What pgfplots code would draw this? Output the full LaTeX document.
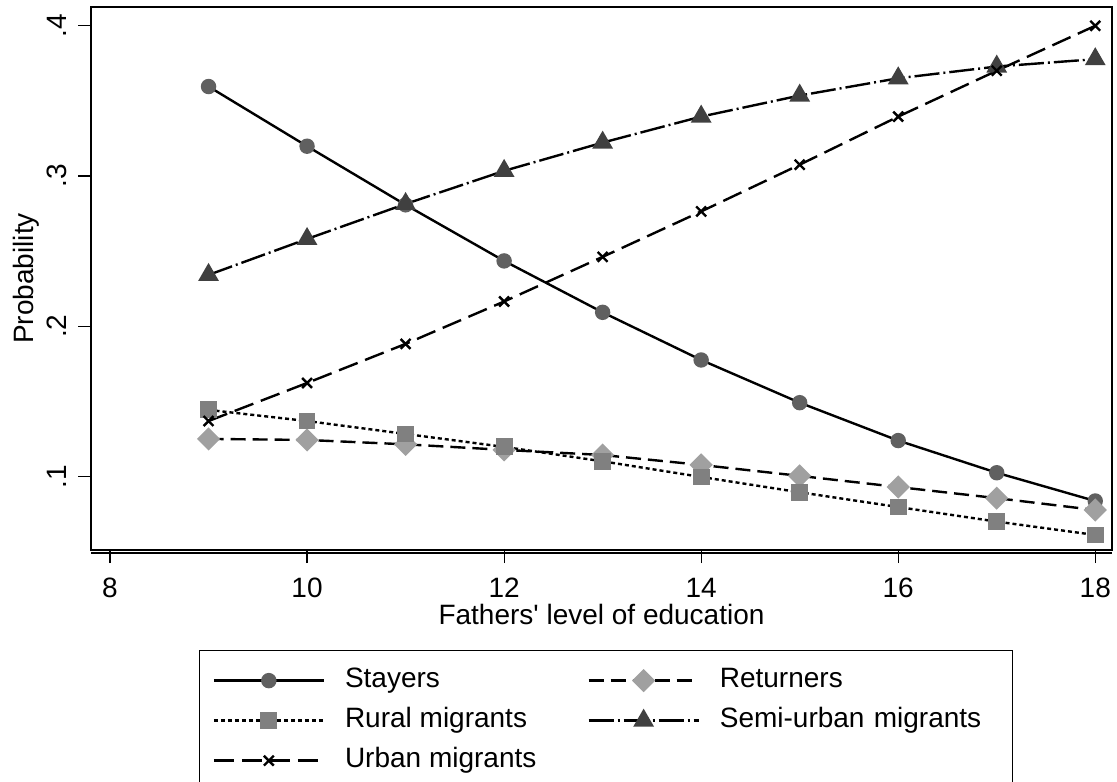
\documentclass[border=0pt]{standalone}
\usepackage{fontspec}
\setmainfont{Liberation Sans}[Ligatures=TeXOff]
\usepackage{pgfplots}
\pgfplotsset{compat=1.18}
\definecolor{cStay}{RGB}{96,96,96}
\definecolor{cRet}{RGB}{160,160,160}
\definecolor{cRur}{RGB}{128,128,128}
\definecolor{cSemi}{RGB}{64,64,64}
\begin{document}
\begin{tikzpicture}
\begin{axis}[
  scale only axis, width=510.5pt, height=271.5pt,
  at={(45.5pt,-275pt)}, anchor=south west,
  xmin=7.807, xmax=18.17, ymin=0.0512, ymax=0.4124,
  xtick={8,10,12,14,16,18}, xticklabels={8,10,12,14,16,18},
  ytick={0.1,0.2,0.3,0.4}, yticklabels={.1,.2,.3,.4},
  xtick pos=left, ytick pos=left,
  tick align=outside, major tick length=6.5pt,
  axis line style={line width=0.6pt},
  tick style={line width=0.6pt, black},
  /pgf/number format/assume math mode=true,
  ticklabel style={font=\fontsize{14}{16}\selectfont, inner sep=0pt},
  xticklabel style={anchor=north}, xticklabel shift=7.5pt,
  yticklabel style={rotate=90, anchor=south}, yticklabel shift=5.5pt,
  xlabel={Fathers' level of education}, ylabel={Probability},
  label style={font=\fontsize{14}{16}\selectfont, inner sep=0pt},
  xlabel style={at={(axis description cs:0.5,-0.0994)}, anchor=north},
  ylabel style={at={(axis description cs:-0.0764,0.5)}, anchor=north},
  legend columns=2,
  legend cell align=left,
  legend style={at={(axis description cs:0.1058,-0.1842)}, anchor=north west,
    draw=black, line width=0.6pt, font=\fontsize{14}{16}\selectfont,
    inner xsep=6.5pt, inner ysep=5pt, row sep=0pt,
    nodes={inner xsep=0pt, inner ysep=3pt, text height=10.5pt, text depth=3.5pt},
    /tikz/every odd column/.append style={column sep=10pt},
    /tikz/every even column/.append style={column sep=25.5pt},
    /tikz/column 4/.append style={nodes={text width=140pt}}},
  legend image code/.code={\draw[mark repeat=2,mark phase=2,#1] plot coordinates {(0pt,0pt) (27.5pt,0pt) (55pt,0pt)};},
  after end axis/.code={\draw[line width=0.6pt] ([yshift=-1.5pt]rel axis cs:0,0) -- ([yshift=-1.5pt]rel axis cs:1,0);},
]
\addplot[black, line width=1.2pt, mark=*, mark size=3.25pt, mark options={solid, fill=cStay, draw=cStay}] coordinates {
(9,0.3595) (10,0.3198) (11,0.2808) (12,0.2435) (13,0.2093) (14,0.1776) (15,0.1492) (16,0.1240) (17,0.1026) (18,0.0838)};
\addlegendentry{Stayers}
\addplot[black, line width=1.2pt, dash pattern=on 7.5pt off 3.5pt, mark=square*, mark size=3.5pt, mark options={solid, rotate=45, fill=cRet, draw=cRet}] coordinates {
(9,0.1251) (10,0.1244) (11,0.1215) (12,0.1178) (13,0.1144) (14,0.1078) (15,0.1005) (16,0.0931) (17,0.0857) (18,0.0778)};
\addlegendentry{Returners}
\addplot[black, line width=1.2pt, dash pattern=on 2pt off 1.5pt, mark=square*, mark size=3.6pt, mark options={solid, fill=cRur, draw=cRur}] coordinates {
(9,0.1444) (10,0.1370) (11,0.1284) (12,0.1198) (13,0.1102) (14,0.0998) (15,0.0896) (16,0.0798) (17,0.0701) (18,0.0612)};
\addlegendentry{Rural migrants}
\addplot[black, line width=1.2pt, dash pattern=on 12.5pt off 2pt on 1pt off 2pt, mark=triangle*, mark size=4.8pt, mark options={solid, fill=cSemi, draw=cSemi}] coordinates {
(9,0.2342) (10,0.2581) (11,0.2814) (12,0.3034) (13,0.3222) (14,0.3395) (15,0.3535) (16,0.3650) (17,0.3728) (18,0.3777)};
\addlegendentry{Semi-urban migrants}
\addplot[black, line width=1.2pt, dash pattern=on 10pt off 4pt, mark=x, mark size=3.5pt, mark options={solid, line width=1.2pt}] coordinates {
(9,0.1370) (10,0.1623) (11,0.1883) (12,0.2165) (13,0.2462) (14,0.2764) (15,0.3075) (16,0.3395) (17,0.3700) (18,0.3999)};
\addlegendentry{Urban migrants}
\end{axis}
\pgfresetboundingbox
\useasboundingbox (0,0) rectangle (558.5pt,-390.5pt);
\end{tikzpicture}
\end{document}
